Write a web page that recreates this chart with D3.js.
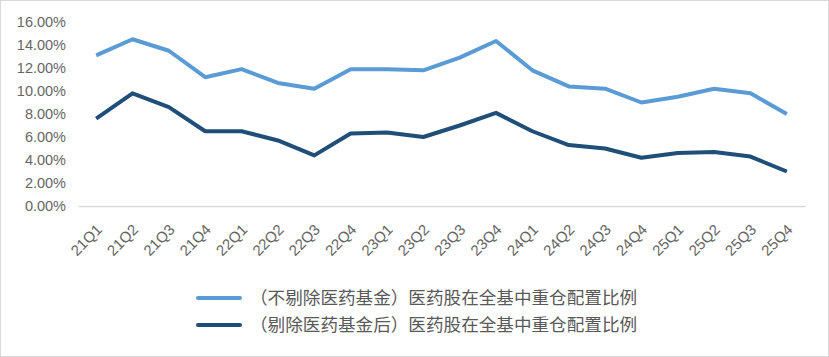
<!DOCTYPE html>
<html><head><meta charset="utf-8">
<script src="https://cdn.jsdelivr.net/npm/d3@7/dist/d3.min.js"></script>
<style>
body{margin:0;background:#fff;}
svg{display:block;font-family:"Liberation Sans","DejaVu Sans",sans-serif;}
</style></head><body>
<svg id="chart" width="829" height="357"></svg>
<script>
const categories = ["21Q1","21Q2","21Q3","21Q4","22Q1","22Q2","22Q3","22Q4","23Q1","23Q2","23Q3","23Q4","24Q1","24Q2","24Q3","24Q4","25Q1","25Q2","25Q3","25Q4"];
const seriesAll = [13.1,14.5,13.5,11.2,11.9,10.7,10.2,11.9,11.9,11.8,12.9,14.35,11.8,10.4,10.2,9.0,9.5,10.2,9.8,8.0];
const seriesExcl = [7.6,9.8,8.6,6.5,6.5,5.7,4.4,6.3,6.4,6.0,7.0,8.1,6.5,5.3,5.0,4.2,4.6,4.7,4.3,3.0];
const seriesNames = ["（不剔除医药基金）医药股在全基中重仓配置比例","（剔除医药基金后）医药股在全基中重仓配置比例"];
const colors = ["#5B9BD5","#1F4E79"];
const yTicks = [0,2,4,6,8,10,12,14,16];

const svg = d3.select("#chart");
svg.append("rect").attr("x",0.5).attr("y",0.5).attr("width",828).attr("height",356)
  .attr("fill","#fff").attr("stroke","#d9d9d9");

const x = d3.scaleBand().domain(categories).range([78,805]);
const y = d3.scaleLinear().domain([0,16]).range([206,22]);

// y labels
const yAxis = d3.axisLeft(y).tickValues(yTicks).tickFormat(d=>d.toFixed(2)+"%").tickSize(0).tickPadding(12);
const gy = svg.append("g").attr("transform","translate(78,0)").call(yAxis);
gy.select(".domain").remove();
gy.selectAll("text").attr("fill","#666").style("font-size","14.5px");

// x axis
const xAxis = d3.axisBottom(x).tickSize(0).tickPadding(0);
const gx = svg.append("g").attr("transform","translate(0,206)").call(xAxis);
gx.select(".domain").attr("stroke","#d9d9d9").attr("stroke-width",1.5);
gx.selectAll("text").attr("fill","#666").style("font-size","15px")
  .attr("text-anchor","end").attr("x",0).attr("y",0).attr("dy","0.35em")
  .attr("transform","translate(3,21) rotate(-45)");

const line = d3.line().x((d,i)=>x(categories[i])+x.bandwidth()/2).y(d=>y(d));
[seriesAll, seriesExcl].forEach((s,k)=>{
  svg.append("path").datum(s).attr("d",line).attr("fill","none")
    .attr("stroke",colors[k]).attr("stroke-width",4).attr("stroke-linejoin","round");
});

// legend
const lg = svg.append("g");
seriesNames.forEach((n,k)=>{
  const yy = 298 + k*27;
  lg.append("line").attr("x1",198).attr("x2",240).attr("y1",yy).attr("y2",yy)
    .attr("stroke",colors[k]).attr("stroke-width",4).attr("stroke-linecap","round");
  lg.append("text").attr("x",250).attr("y",yy).attr("dy","0.35em")
    .attr("fill","#595959").style("font-size","17.6px")
    .style("font-family","'Noto Sans CJK SC',sans-serif").text(n);
});
</script></body></html>
